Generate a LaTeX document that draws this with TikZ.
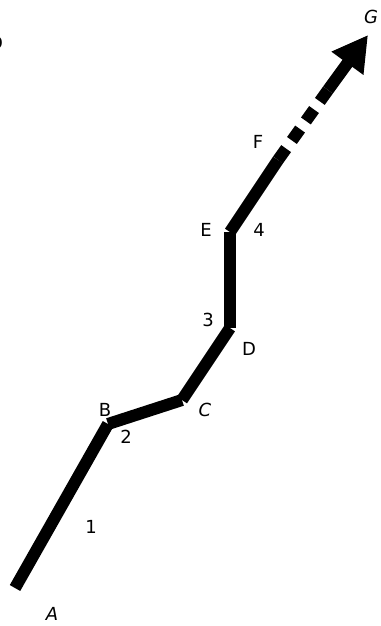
\documentclass[tikz,border=0pt]{standalone}
\usepackage{fontspec}
\setmainfont{DejaVu Sans}
\usetikzlibrary{arrows.meta}

\begin{document}
\begin{tikzpicture}[x=1pt, y=-1pt,
    seg/.style={line width=12pt, line cap=butt},
    lbl/.style={font=\fontsize{18}{20}\selectfont, inner sep=0pt},
    ilbl/.style={lbl, font=\fontsize{18}{20}\selectfont\itshape}]
    \useasboundingbox (0,0) rectangle (380,626);

    % Turning points of the path
    \coordinate (A) at (15,588);
    \coordinate (B) at (108,424);
    \coordinate (C) at (182,400);
    \coordinate (D) at (230,328);
    \coordinate (E) at (230,232);
    \coordinate (F) at (278,160);
    \coordinate (H) at (328,90);
    \coordinate (G) at (368,35);

    % Solid segments
    \draw[seg] (A) -- (B);
    \draw[seg] (B) -- (C);
    \draw[seg] (C) -- (D);
    \draw[seg] (D) -- (E);
    \draw[seg] (E) -- (F);

    % Dashed part and arrow towards G
    \draw[seg, dash pattern=on 14pt off 10pt] (F) -- (H);
    \draw[seg, -{Triangle[length=35pt, width=37pt]}] (H) -- (G);

    % Labels
    \node[ilbl] (lA) at (52,614) {A};
    \node[lbl] (lB) at (105,410) {B};
    \node[ilbl] (lC) at (205,410) {C};
    \node[lbl] (lD) at (249,349) {D};
    \node[lbl] (lE) at (206,230) {E};
    \node[lbl] (lF) at (258,142) {F};
    \node[ilbl] (lG) at (371,17) {G};
    \node[lbl] (l1) at (91,527) {1};
    \node[lbl] (l2) at (126,437) {2};
    \node[lbl] (l3) at (208,320) {3};
    \node[lbl] (l4) at (259,230) {4};
    \node[lbl] (lcut) at (-4,43) {D};
\end{tikzpicture}
\end{document}
